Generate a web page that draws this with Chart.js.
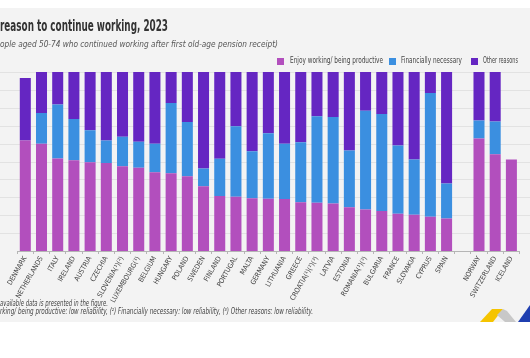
<!DOCTYPE html>
<html>
<head>
<meta charset="utf-8">
<script src="https://cdn.jsdelivr.net/npm/chart.js@4.4.1/dist/chart.umd.min.js"></script>
<style>
  body { margin: 0; background: #fff; }
  #wrap { position: relative; width: 530px; height: 358px; overflow: hidden; font-family: 'Liberation Sans Narrow', 'DejaVu Sans Condensed', sans-serif; }
  #bg { position: absolute; left: 0; top: 8px; width: 530px; height: 314px; background: #f3f3f3; }
  canvas { position: absolute; left: 0; top: 0; }
  .txt { position: absolute; white-space: nowrap; transform-origin: 0 50%; }
  #title { left: 0; top: 17px; font-size: 15px; font-weight: bold; color: #333; }
  #subtitle { left: 0; top: 38px; font-size: 9.5px; font-style: italic; color: #555; }
  .box { position: absolute; width: 7px; height: 7px; top: 58px; }
  .lab { top: 56px; font-size: 8px; color: #444; }
  .note { left: 0; font-size: 8px; font-style: italic; color: #444; }
  #logo { position: absolute; left: 0; top: 0; }
</style>
</head>
<body>
<div id="wrap">
  <div id="bg"></div>
  <canvas id="chart" width="530" height="358"></canvas>
  <div class="txt" id="title" data-w="168">reason to continue working, 2023</div>
  <div class="txt" id="subtitle" data-w="278">ople aged 50-74 who continued working after first old-age pension receipt)</div>
  <div id="legend"></div>
  <div class="txt note" style="top:299px" data-w="108">available data is presented in the figure.</div>
  <div class="txt note" style="top:307px" data-w="313">rking/ being productive: low reliability, (²) Financially necessary: low reliability, (³) Other reasons: low reliability.</div>
  <svg id="logo" width="530" height="358">
    <polygon points="480,322 492,309 503,309 493,322" fill="#f5c400"/>
    <polygon points="503,309 507,311 516,322 505,322 497,315" fill="#c8c8c8"/>
    <polygon points="518,322 530,305 530,322" fill="#1f3fb0"/>
  </svg>
</div>
<script>
// countries (empty slot = gap before the non-EU countries)
const countries = ['DENMARK', 'NETHERLANDS', 'ITALY', 'IRELAND', 'AUSTRIA', 'CZECHIA', 'SLOVENIA(¹)(²)',
  'LUXEMBOURG(¹)', 'BELGIUM', 'HUNGARY', 'POLAND', 'SWEDEN', 'FINLAND', 'PORTUGAL', 'MALTA', 'GERMANY',
  'LITHUANIA', 'GREECE', 'CROATIA(¹)(²)(³)', 'LATVIA', 'ESTONIA', 'ROMANIA(¹)(³)', 'BULGARIA', 'FRANCE',
  'SLOVAKIA', 'CYPRUS', 'SPAIN', '', 'NORWAY', 'SWITZERLAND', 'ICELAND'];

const enjoyWorking = [61.7, 59.9, 51.7, 50.7, 49.6, 49.1, 47.4, 46.5, 44.0, 43.5, 41.8, 36.2, 30.7, 30.3,
  29.5, 29.2, 29.0, 27.3, 27.0, 26.6, 24.4, 23.2, 22.3, 20.8, 20.3, 19.2, 18.1, null, 62.8, 54.1, 51.1];
const financiallyNecessary = [null, 17.2, 30.1, 23.1, 17.8, 12.6, 16.4, 14.5, 15.9, 39.2, 30.3, 9.9, 20.8, 39.4,
  26.2, 36.6, 30.9, 33.5, 48.3, 48.3, 31.7, 55.2, 54.3, 38.1, 30.8, 69.1, 19.6, null, 10.1, 18.2, null];
const otherReasons = [35.0, 22.9, 18.2, 26.2, 32.6, 38.3, 36.2, 39.0, 40.1, 17.3, 27.9, 53.9, 48.5, 30.3,
  44.3, 34.2, 40.1, 39.2, 24.7, 25.1, 43.9, 21.6, 23.4, 41.1, 48.9, 11.7, 62.3, null, 27.1, 27.7, null];

const seriesNames = ['Enjoy working/ being productive', 'Financially necessary', 'Other reasons'];
const seriesColors = ['#b24fbd', '#3b8fe0', '#6526c2'];
const gridValues = [10, 20, 30, 40, 50, 60, 70, 80, 90, 100];

// legend: box x, text x, text width
const legendPos = [[277, 290, 93], [389, 401, 61], [471, 483, 35]];
const legendEl = document.getElementById('legend');
seriesNames.forEach((name, i) => {
  const p = legendPos[i];
  legendEl.innerHTML += '<div class="box" style="left:' + p[0] + 'px;background:' + seriesColors[i] + '"></div>' +
    '<div class="txt lab" style="left:' + p[1] + 'px" data-w="' + p[2] + '">' + name + '</div>';
});

// squeeze texts to the widths seen in the picture
document.querySelectorAll('[data-w]').forEach(el => {
  const w = el.getBoundingClientRect().width;
  el.style.transform = 'scaleX(' + (parseFloat(el.dataset.w) / w) + ')';
});

const gridPlugin = {
  id: 'grid',
  beforeDatasetsDraw(chart) {
    const ctx = chart.ctx;
    const y = chart.scales.y;
    ctx.save();
    ctx.strokeStyle = '#e2e2e2';
    ctx.lineWidth = 1;
    gridValues.forEach(v => {
      const py = Math.round(y.getPixelForValue(v)) + 0.5;
      ctx.beginPath();
      ctx.moveTo(0, py);
      ctx.lineTo(chart.width, py);
      ctx.stroke();
    });
    ctx.restore();
  }
};

const datasets = [enjoyWorking, financiallyNecessary, otherReasons].map((d, i) => ({
  label: seriesNames[i],
  data: d,
  backgroundColor: seriesColors[i],
  barPercentage: 0.68,
  categoryPercentage: 1
}));

new Chart(document.getElementById('chart'), {
  type: 'bar',
  data: { labels: countries, datasets: datasets },
  plugins: [gridPlugin],
  options: {
    responsive: false,
    animation: false,
    layout: { padding: { left: 17.2, right: 10.5, top: 72, bottom: 0 } },
    plugins: { legend: { display: false }, tooltip: { enabled: false } },
    scales: {
      x: {
        stacked: true,
        grid: { display: true, drawOnChartArea: false, drawTicks: true, tickLength: 3, color: '#b5b5b5', offset: true },
        border: { display: true, color: '#b5b5b5' },
        ticks: {
          autoSkip: false, maxRotation: 60, minRotation: 60, padding: 1, color: '#444',
          font: { family: "'Liberation Sans Narrow', 'DejaVu Sans Condensed', sans-serif", size: 7 }
        },
        afterFit: s => { s.height = 107; s.paddingLeft = 0; s.paddingRight = 0; }
      },
      y: { stacked: true, display: false, min: 0, max: 100 }
    }
  }
});
</script>
</body>
</html>
